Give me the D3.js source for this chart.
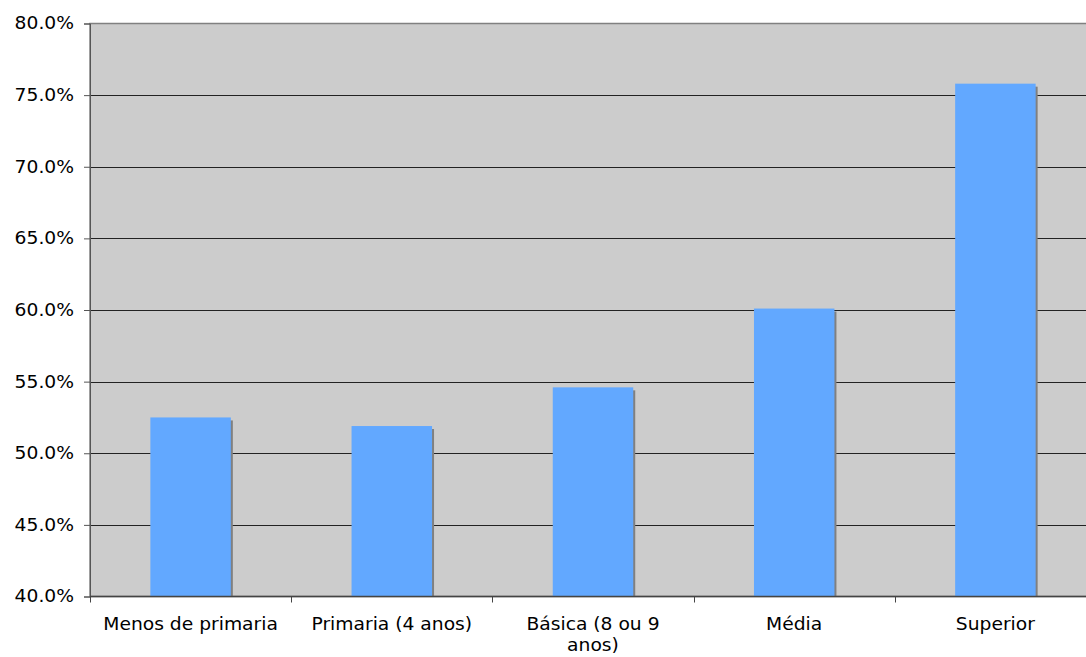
<!DOCTYPE html>
<html><head><meta charset="utf-8">
<script src="https://cdn.jsdelivr.net/npm/d3@7"></script>
<style>
html,body{margin:0;padding:0;background:#fff;overflow:hidden;}
text{font-family:"DejaVu Sans",Verdana,sans-serif;fill:#000;}
</style></head>
<body>
<svg id="chart" width="1086" height="657"></svg>
<script>
const categories = ["Menos de primaria", "Primaria (4 anos)", "Básica (8 ou 9 anos)", "Média", "Superior"];
const values = [52.5, 51.9, 54.6, 60.1, 75.8];
const yTicks = [40, 45, 50, 55, 60, 65, 70, 75, 80];

(function () {
const svg = d3.select("#chart");
const pLeft = 90, pRight = 1096, pTop = 23.5, pBottom = 596.5;
const sx = 1.1; // horizontal stretch of text

const x = d3.scaleBand().domain(categories).range([pLeft, pRight]).paddingInner(0.6).paddingOuter(0.3);
const y = d3.scaleLinear().domain([40, 80]).range([pBottom, pTop]);

svg.append("rect").attr("x", pLeft).attr("y", pTop).attr("width", pRight - pLeft).attr("height", pBottom - pTop)
  .attr("fill", "#CCCCCC").attr("stroke", "#808080").attr("stroke-width", 1.5);

svg.append("g").selectAll("line").data(yTicks.filter(d => d > 40 && d < 80)).join("line")
  .attr("x1", pLeft).attr("x2", pRight)
  .attr("y1", d => Math.round(y(d)) + 0.5).attr("y2", d => Math.round(y(d)) + 0.5)
  .attr("stroke", "#222").attr("stroke-width", 1);

svg.append("g").selectAll("rect").data(values).join("rect")
  .attr("x", (d, i) => x(categories[i]) + 2)
  .attr("y", d => y(d) + 3)
  .attr("width", x.bandwidth())
  .attr("height", d => pBottom - y(d) - 3)
  .attr("fill", "#808080");

svg.append("g").selectAll("rect").data(values).join("rect")
  .attr("x", (d, i) => x(categories[i]))
  .attr("y", d => y(d))
  .attr("width", x.bandwidth())
  .attr("height", d => pBottom - y(d))
  .attr("fill", "#62A8FF");

const yAxis = d3.axisLeft(y).tickValues(yTicks).tickSize(6).tickPadding(10)
  .tickFormat(d => d.toFixed(1) + "%");
const gy = svg.append("g").attr("transform", `translate(${pLeft},0)`).call(yAxis);
gy.select(".domain").attr("stroke", "#555");
gy.selectAll(".tick line").attr("stroke", "#555");
gy.selectAll("text").attr("font-size", 17).attr("fill", "#000")
  .style("font-family", '"DejaVu Sans",Verdana,sans-serif')
  .attr("x", -16 / sx).attr("transform", `scale(${sx},1)`);

const gx = svg.append("g").attr("transform", `translate(0,${pBottom})`);
gx.append("line").attr("x1", pLeft).attr("x2", pRight).attr("y1", 0).attr("y2", 0).attr("stroke", "#444").attr("stroke-width", 1.5);
gx.selectAll("line.tk").data(d3.range(categories.length + 1)).join("line").attr("class", "tk")
  .attr("x1", i => Math.round(pLeft + i * x.step()) + 0.5)
  .attr("x2", i => Math.round(pLeft + i * x.step()) + 0.5)
  .attr("y1", 0).attr("y2", 6).attr("stroke", "#444");

const labelLines = [["Menos de primaria"], ["Primaria (4 anos)"], ["Básica (8 ou 9", "anos)"], ["Média"], ["Superior"]];
gx.selectAll("text.lbl").data(categories).join("text").attr("class", "lbl")
  .attr("text-anchor", "middle").attr("font-size", 17)
  .attr("transform", `scale(${sx},1)`)
  .each(function(d, i) {
    const t = d3.select(this);
    labelLines[i].forEach((ln, j) => {
      t.append("tspan").attr("x", (x(d) + x.bandwidth() / 2) / sx).attr("y", 34 + j * 21).text(ln);
    });
  });
})();
</script>
</body></html>
